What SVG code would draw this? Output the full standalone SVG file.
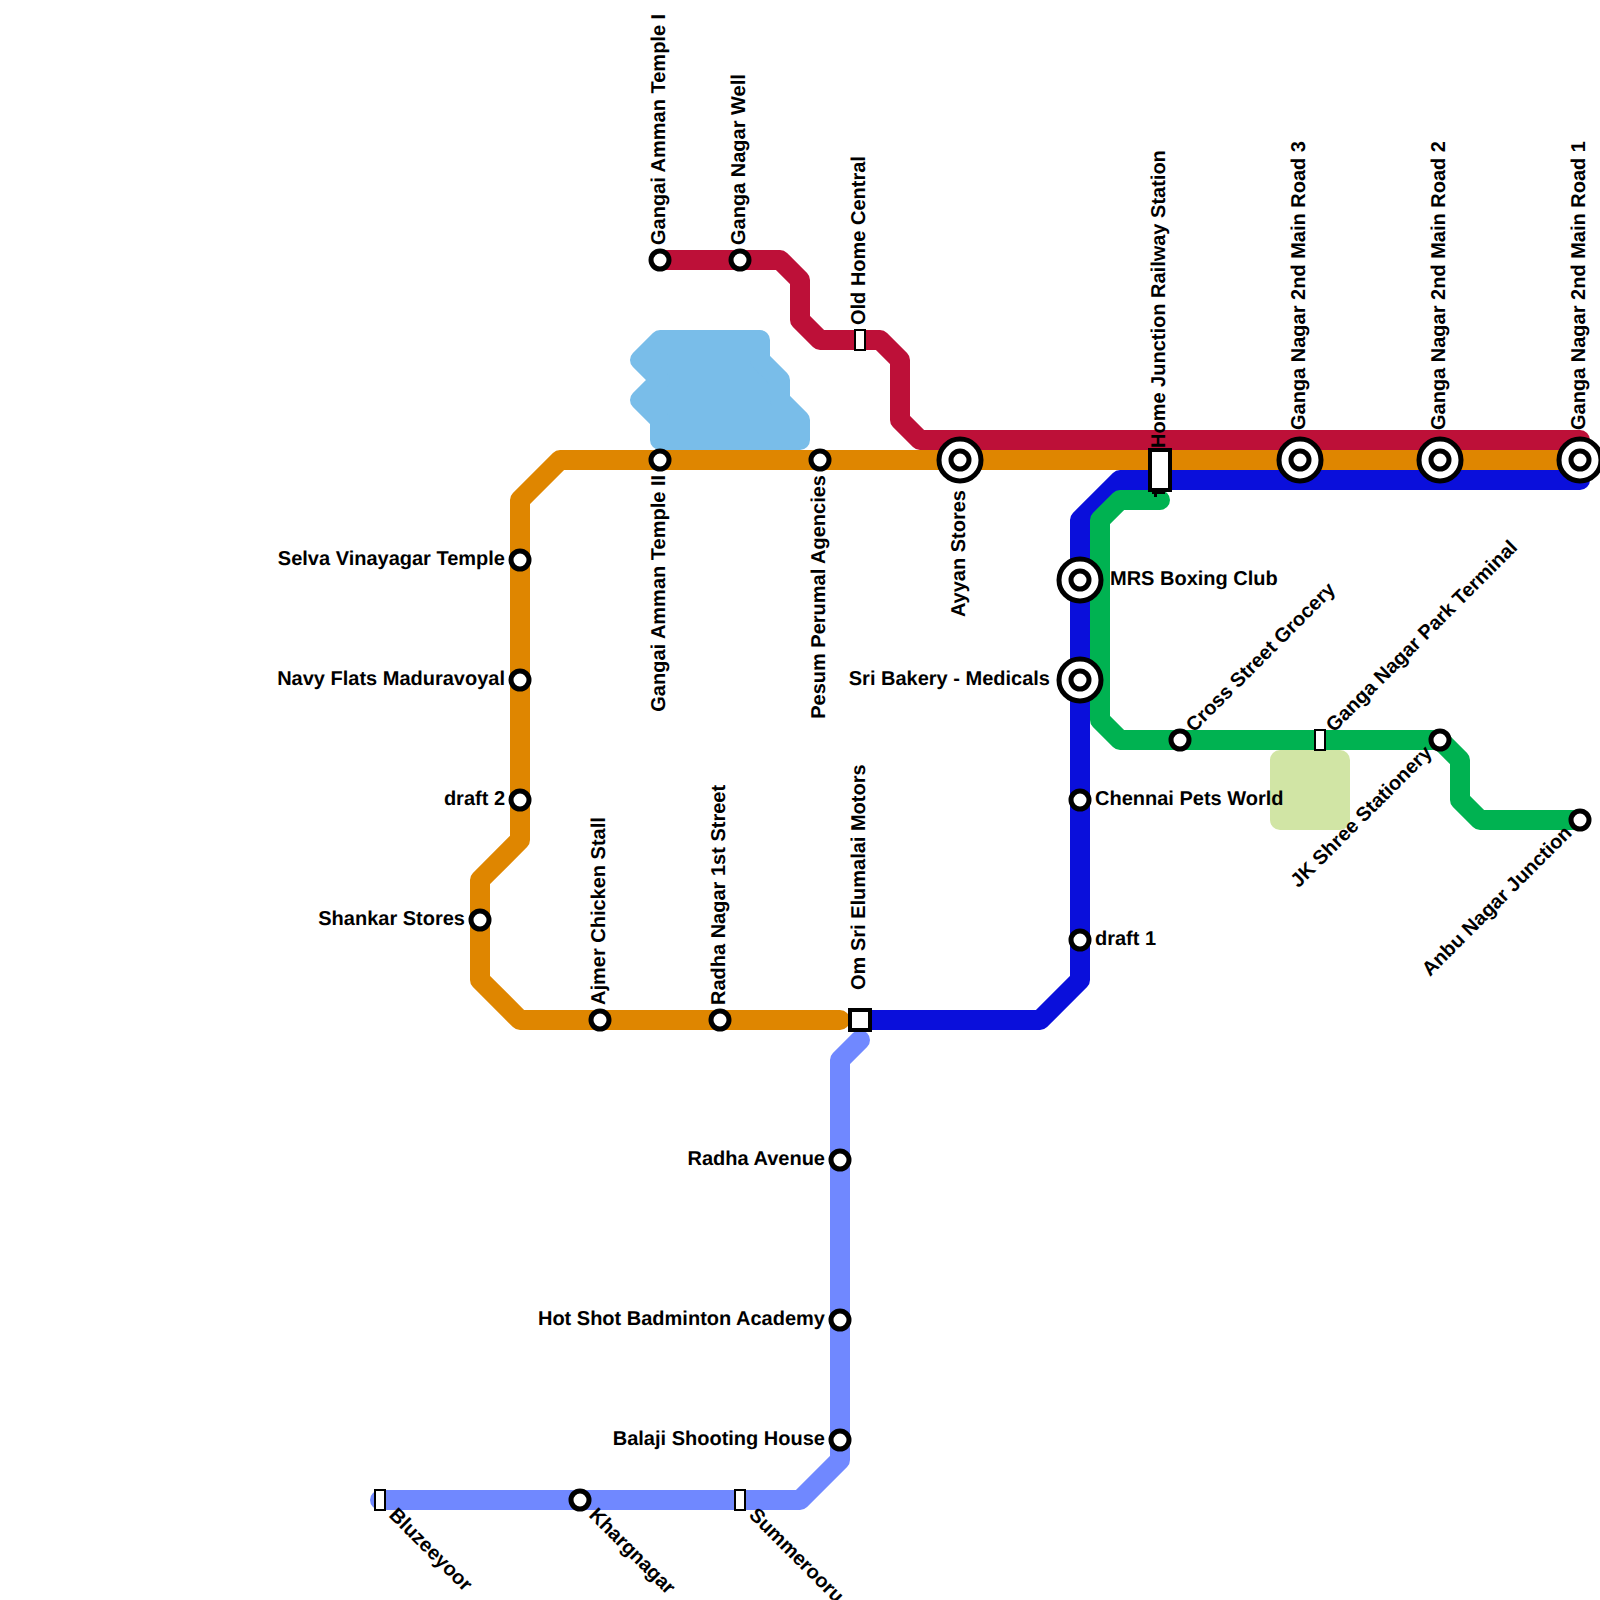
<svg xmlns="http://www.w3.org/2000/svg" width="1600" height="1600" viewBox="0 0 1600 1600">
<style>
.l{fill:none;stroke-width:20;stroke-linejoin:round;stroke-linecap:round}
.p{stroke-width:20;stroke-linejoin:round}
.s{fill:#fff;stroke:#000;stroke-width:5}
.b{fill:#fff;stroke:#000;stroke-width:5}
.r{fill:#fff;stroke:#000;stroke-width:2}
.R{fill:#fff;stroke:#000;stroke-width:4}
text{font-family:"Liberation Sans",Arial,sans-serif;font-weight:700;font-size:20px;fill:#000;text-rendering:geometricPrecision}
.e{text-anchor:end}
</style>
<rect width="1600" height="1600" fill="#fff"/>
<g id="areas">
<polygon class="p" fill="#79bde9" stroke="#79bde9" points="660,340 760,340 760,360 780,380 780,400 800,420 800,440 660,440 660,420 640,400 660,380 640,360"/>
<polygon class="p" fill="#d1e5a5" stroke="#d1e5a5" points="1280,760 1340,760 1340,820 1280,820"/>
</g>
<g id="connectors">
<polyline class="l" stroke="#bd1038" points="660,260 780,260 800,280 800,320 820,340 880,340 900,360 900,420 920,440 1580,440"/>
<polyline class="l" stroke="#df8600" points="1580,460 560,460 520,500 520,840 480,880 480,980 520,1020 840,1020"/>
<polyline class="l" stroke="#0a0fdb" points="1580,480 1120,480 1080,520 1080,980 1040,1020 860,1020"/>
<polyline class="l" stroke="#00b251" points="1160,500 1120,500 1100,520 1100,720 1120,740 1440,740 1460,760 1460,800 1480,820 1580,820"/>
<polyline class="l" stroke="#7088ff" points="860,1040 840,1060 840,1460 800,1500 380,1500"/>
</g>
<g id="labels">
<text class="e" x="505" y="565">Selva Vinayagar Temple</text>
<text class="e" x="505" y="685">Navy Flats Maduravoyal</text>
<text class="e" x="505" y="805">draft 2</text>
<text class="e" x="465" y="925">Shankar Stores</text>
<text class="e" x="825" y="1165">Radha Avenue</text>
<text class="e" x="825" y="1325">Hot Shot Badminton Academy</text>
<text class="e" x="825" y="1445">Balaji Shooting House</text>
<text class="e" x="1050" y="685">Sri Bakery - Medicals</text>
<text x="1110" y="585">MRS Boxing Club</text>
<text x="1095" y="805">Chennai Pets World</text>
<text x="1095" y="945">draft 1</text>
<text transform="translate(665,245) rotate(-90)">Gangai Amman Temple I</text>
<text transform="translate(745,245) rotate(-90)">Ganga Nagar Well</text>
<text transform="translate(865,325) rotate(-90)">Old Home Central</text>
<text transform="translate(1165,448) rotate(-90)">Home Junction Railway Station</text>
<text transform="translate(1305,430) rotate(-90)">Ganga Nagar 2nd Main Road 3</text>
<text transform="translate(1445,430) rotate(-90)">Ganga Nagar 2nd Main Road 2</text>
<text transform="translate(1585,430) rotate(-90)">Ganga Nagar 2nd Main Road 1</text>
<text transform="translate(605,1005) rotate(-90)">Ajmer Chicken Stall</text>
<text transform="translate(725,1005) rotate(-90)">Radha Nagar 1st Street</text>
<text transform="translate(865,990) rotate(-90)">Om Sri Elumalai Motors</text>
<text class="e" transform="translate(665,475) rotate(-90)">Gangai Amman Temple II</text>
<text class="e" transform="translate(825,475) rotate(-90)">Pesum Perumal Agencies</text>
<text class="e" transform="translate(965,490) rotate(-90)">Ayyan Stores</text>
<text transform="translate(1194,733) rotate(-45)">Cross Street Grocery</text>
<text transform="translate(1334,733) rotate(-45)">Ganga Nagar Park Terminal</text>
<text class="e" transform="translate(1433,754) rotate(-45)">JK Shree Stationery</text>
<text class="e" transform="translate(1573,834) rotate(-45)">Anbu Nagar Junction</text>
<text transform="translate(388,1516) rotate(45)">Bluzeeyoor</text>
<text transform="translate(588,1516) rotate(45)">Khargnagar</text>
<text transform="translate(748,1516) rotate(45)">Summerooru</text>
</g>
<g id="st-selva"><circle class="s" cx="520" cy="560" r="9"/></g>
<g id="st-navy"><circle class="s" cx="520" cy="680" r="9"/></g>
<g id="st-draft2"><circle class="s" cx="520" cy="800" r="9"/></g>
<g id="st-shankar"><circle class="s" cx="480" cy="920" r="9"/></g>
<g id="st-ajmer"><circle class="s" cx="600" cy="1020" r="9"/></g>
<g id="st-radhanagar"><circle class="s" cx="720" cy="1020" r="9"/></g>
<g id="st-gangai2"><circle class="s" cx="660" cy="460" r="9"/></g>
<g id="st-pesum"><circle class="s" cx="820" cy="460" r="9"/></g>
<g id="st-gangai1"><circle class="s" cx="660" cy="260" r="9"/></g>
<g id="st-well"><circle class="s" cx="740" cy="260" r="9"/></g>
<g id="st-pets"><circle class="s" cx="1080" cy="800" r="9"/></g>
<g id="st-draft1"><circle class="s" cx="1080" cy="940" r="9"/></g>
<g id="st-cross"><circle class="s" cx="1180" cy="740" r="9"/></g>
<g id="st-jk"><circle class="s" cx="1440" cy="740" r="9"/></g>
<g id="st-anbu"><circle class="s" cx="1580" cy="820" r="9"/></g>
<g id="st-radhaave"><circle class="s" cx="840" cy="1160" r="9"/></g>
<g id="st-hotshot"><circle class="s" cx="840" cy="1320" r="9"/></g>
<g id="st-balaji"><circle class="s" cx="840" cy="1440" r="9"/></g>
<g id="st-kharg"><circle class="s" cx="580" cy="1500" r="9"/></g>
<g id="st-ayyan"><circle class="b" cx="960" cy="460" r="21"/><circle class="s" cx="960" cy="460" r="9"/></g>
<g id="st-road3"><circle class="b" cx="1300" cy="460" r="21"/><circle class="s" cx="1300" cy="460" r="9"/></g>
<g id="st-road2"><circle class="b" cx="1440" cy="460" r="21"/><circle class="s" cx="1440" cy="460" r="9"/></g>
<g id="st-road1"><circle class="b" cx="1580" cy="460" r="21"/><circle class="s" cx="1580" cy="460" r="9"/></g>
<g id="st-mrs"><circle class="b" cx="1080" cy="580" r="21"/><circle class="s" cx="1080" cy="580" r="9"/></g>
<g id="st-sri"><circle class="b" cx="1080" cy="680" r="21"/><circle class="s" cx="1080" cy="680" r="9"/></g>
<g id="st-oldhome"><rect class="r" x="855" y="330" width="10" height="20"/></g>
<g id="st-park"><rect class="r" x="1315" y="730" width="10" height="20"/></g>
<g id="st-summer"><rect class="r" x="735" y="1490" width="10" height="20"/></g>
<g id="st-bluz"><rect class="r" x="375" y="1490" width="10" height="20"/></g>
<g id="st-home"><path d="M1152 490h13v4h-8v3h-3v-3h-2z"/><rect class="R" x="1150" y="450" width="20" height="40"/></g>
<g id="st-om"><rect class="R" x="850" y="1010" width="20" height="20"/></g>
</svg>
